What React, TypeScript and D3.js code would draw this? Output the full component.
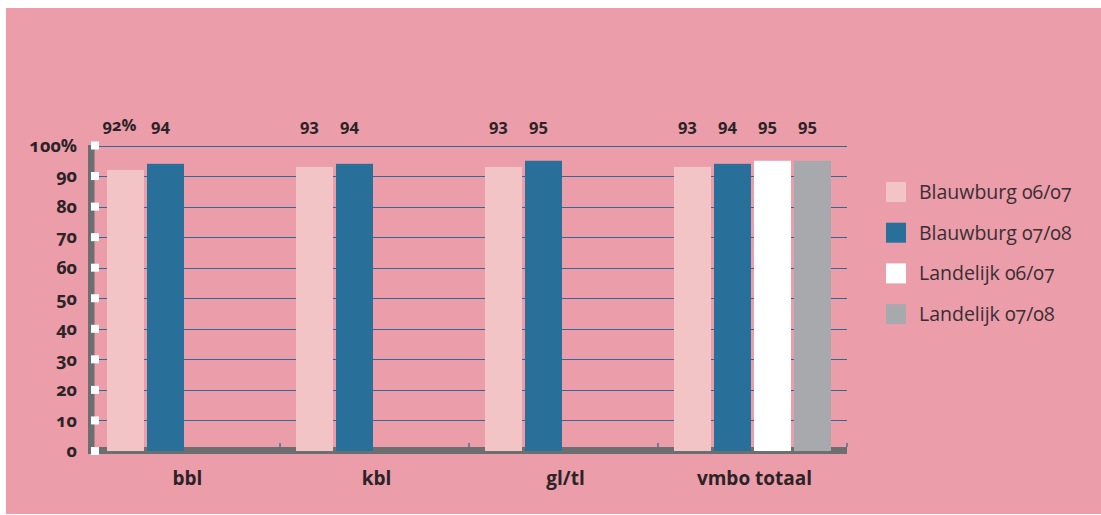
import { useEffect, useRef } from 'react';
import * as d3 from 'd3';

const categories = ['bbl', 'kbl', 'gl/tl', 'vmbo totaal'];
const seriesNames = ['Blauwburg 06/07', 'Blauwburg 07/08', 'Landelijk 06/07', 'Landelijk 07/08'];
const seriesColors = ['#f3c4c5', '#287099', '#ffffff', '#a8a9ad'];
// values per series, one per category (null = no bar)
const blauwburg0607 = [92, 93, 93, 93];
const blauwburg0708 = [94, 94, 95, 94];
const landelijk0607 = [null, null, null, 95];
const landelijk0708 = [null, null, null, 95];
const seriesValues = [blauwburg0607, blauwburg0708, landelijk0607, landelijk0708];
const yTicks = [0, 10, 20, 30, 40, 50, 60, 70, 80, 90, 100];

const W = 1101;
const H = 515;

export default function App() {
  const ref = useRef<SVGSVGElement>(null);

  useEffect(() => {
    if (!ref.current) return;
    const svg = d3.select(ref.current);
    svg.selectAll('*').remove();

    const font = '"Open Sans", Lato, sans-serif';
    const ink = '#2b2326';

    // panel
    svg.append('rect')
      .attr('x', 6).attr('y', 8)
      .attr('width', W - 6).attr('height', 506)
      .attr('fill', '#eb9daa');

    const x0 = d3.scaleBand<string>()
      .domain(categories)
      .range([91, 847]);

    const x1 = d3.scaleBand<string>()
      .domain(seriesNames)
      .range([16, 173])
      .paddingInner(0.075);

    const y = d3.scaleLinear()
      .domain([0, 100])
      .range([451, 145.5]);

    // gridlines
    svg.append('g')
      .selectAll('line')
      .data(yTicks.filter(d => d > 0))
      .enter().append('line')
      .attr('x1', 95).attr('x2', 847)
      .attr('y1', d => Math.round(y(d)) + 0.5)
      .attr('y2', d => Math.round(y(d)) + 0.5)
      .attr('stroke', '#2e6a95').attr('stroke-width', 1.2);

    // bottom axis bar
    svg.append('rect')
      .attr('x', 88).attr('y', 447)
      .attr('width', 847 - 88).attr('height', 7)
      .attr('fill', '#6d6e70');

    // vertical axis bar
    svg.append('rect')
      .attr('x', 88).attr('y', 145)
      .attr('width', 6.5).attr('height', 454 - 145)
      .attr('fill', '#6d6e70');

    // category boundary ticks
    svg.append('g')
      .selectAll('line')
      .data(categories.slice(1).map(c => x0(c)!).concat([x0.range()[1]]))
      .enter().append('line')
      .attr('x1', d => d).attr('x2', d => d)
      .attr('y1', 443).attr('y2', 447)
      .attr('stroke', '#2e6a95').attr('stroke-width', 1.3);

    // bars
    const groups = svg.append('g')
      .selectAll('g')
      .data(categories)
      .enter().append('g')
      .attr('transform', d => `translate(${x0(d)},0)`);

    groups.each(function (cat, ci) {
      const g = d3.select(this);
      seriesNames.forEach((s, si) => {
        const v = seriesValues[si][ci];
        if (v == null) return;
        const bx = x1(s)!;
        g.append('rect')
          .attr('x', bx).attr('y', y(v))
          .attr('width', x1.bandwidth())
          .attr('height', y(0) - y(v))
          .attr('fill', seriesColors[si]);
        const isFirst = ci === 0 && si === 0;
        g.append('text')
          .attr('x', bx + x1.bandwidth() / 2 - (isFirst ? 6 : 5))
          .attr('y', 125)
          .attr('dy', '0.35em')
          .attr('text-anchor', 'middle')
          .attr('font-family', font).attr('font-weight', 700)
          .attr('font-size', 16.5).attr('fill', ink)
          .style('font-variant-numeric', 'oldstyle-nums')
          .text(isFirst ? `${v}%` : `${v}`);
      });
    });

    // y ticks: white squares and labels
    svg.append('g')
      .selectAll('rect')
      .data(yTicks)
      .enter().append('rect')
      .attr('x', 91).attr('y', d => y(d) - 4)
      .attr('width', 8).attr('height', 8)
      .attr('fill', '#ffffff');

    svg.append('g')
      .selectAll('text')
      .data(yTicks)
      .enter().append('text')
      .attr('x', 77).attr('y', d => y(d))
      .attr('dy', '0.35em')
      .attr('text-anchor', 'end')
      .attr('font-family', font).attr('font-weight', 700)
      .attr('font-size', 18).attr('fill', ink)
      .style('font-variant-numeric', 'oldstyle-nums')
      .text(d => d === 100 ? '100%' : `${d}`);

    // category labels
    svg.append('g')
      .selectAll('text')
      .data(categories)
      .enter().append('text')
      .attr('x', d => x0(d)! + x0.bandwidth() / 2 + 2)
      .attr('y', 478)
      .attr('dy', '0.35em')
      .attr('text-anchor', 'middle')
      .attr('font-family', font).attr('font-weight', 700)
      .attr('font-size', 19).attr('fill', ink)
      .text(d => d);

    // legend
    const legend = svg.append('g')
      .selectAll('g')
      .data(seriesNames)
      .enter().append('g')
      .attr('transform', (d, i) => `translate(886,${182 + i * 40.7})`);

    legend.append('rect')
      .attr('width', 20).attr('height', 20)
      .attr('fill', (d, i) => seriesColors[i]);

    legend.append('text')
      .attr('x', 33).attr('y', 10)
      .attr('dy', '0.35em')
      .attr('font-family', font)
      .attr('font-size', 19.5).attr('fill', '#3a2e33')
      .style('font-variant-numeric', 'oldstyle-nums')
      .text(d => d);
  }, []);

  return (
    <div style={{ position: 'absolute', left: 0, top: 0 }}>
      <svg ref={ref} width={W} height={H} style={{ display: 'block' }} />
    </div>
  );
}
